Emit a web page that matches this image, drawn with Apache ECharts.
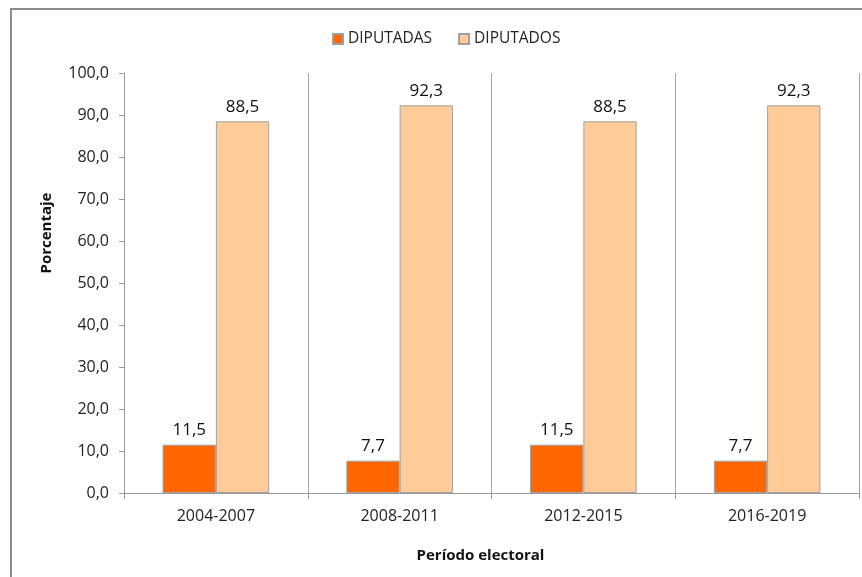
<!DOCTYPE html>
<html><head><meta charset="utf-8">
<script src="https://cdn.jsdelivr.net/npm/echarts@6/dist/echarts.min.js"></script>
<style>html,body{margin:0;padding:0;background:#fff}#c{width:862px;height:577px}</style>
</head><body><div id="c"></div>
<script>
const categories = ['2004-2007','2008-2011','2012-2015','2016-2019'];
const diputadas = [11.5, 7.7, 11.5, 7.7];
const diputados = [88.5, 92.3, 88.5, 92.3];
const yTicks = [0,10,20,30,40,50,60,70,80,90,100];

const fmt = v => Number(v).toFixed(1).replace('.', ',');
const FONT = '"Open Sans", "Noto Sans", sans-serif';
const chart = echarts.init(document.getElementById('c'), null, {renderer:'canvas'});
chart.setOption({
  animation:false,
  textStyle:{fontFamily:FONT},
  graphic:[{type:'rect', shape:{x:11,y:9,width:900,height:620}, style:{fill:'none', stroke:'#8c8c8c', lineWidth:2}, silent:true}],
  legend:{top:26, left:327, itemWidth:10, itemHeight:10, itemGap:26, icon:'rect',
    textStyle:{fontSize:15.5, color:'#222', fontFamily:FONT}},
  grid:{left:124, right:3, top:73, bottom:84, containLabel:false},
  xAxis:{type:'category', data:categories,
    name:'Período electoral', nameLocation:'middle', nameGap:55,
    nameTextStyle:{fontWeight:'bold', fontSize:15, color:'#111', fontFamily:FONT, padding:[0,22,0,0]},
    axisLine:{lineStyle:{color:'#999'}},
    axisTick:{show:true, length:6, interval:0, lineStyle:{color:'#999'}},
    axisLabel:{fontSize:16, color:'#222', margin:15, interval:0},
    splitLine:{show:true, interval:0, lineStyle:{color:'#a6a6a6'}}},
  yAxis:{type:'value', min:yTicks[0], max:yTicks[yTicks.length-1], interval:10,
    name:'Porcentaje', nameLocation:'middle', nameGap:70, nameRotate:90,
    nameTextStyle:{fontWeight:'bold', fontSize:15, color:'#111', fontFamily:FONT, padding:[0,0,0,100]},
    axisLine:{show:true, lineStyle:{color:'#999'}},
    axisTick:{show:true, length:5, lineStyle:{color:'#999'}},
    axisLabel:{fontSize:16, color:'#222', margin:15, formatter:fmt},
    splitLine:{show:false}},
  series:[
    {name:'DIPUTADAS', type:'bar', data:diputadas, barGap:'0%', barCategoryGap:'42%',
      itemStyle:{color:'#FF6600', borderColor:'#a0a0a0', borderWidth:1},
      label:{show:true, position:'top', distance:6, fontSize:17, color:'#111', formatter:p=>fmt(p.value)}},
    {name:'DIPUTADOS', type:'bar', data:diputados, barGap:'0%', barCategoryGap:'42%',
      itemStyle:{color:'#FFCC99', borderColor:'#a0a0a0', borderWidth:1},
      label:{show:true, position:'top', distance:6, fontSize:17, color:'#111', formatter:p=>fmt(p.value)}}
  ]
});
</script></body></html>
